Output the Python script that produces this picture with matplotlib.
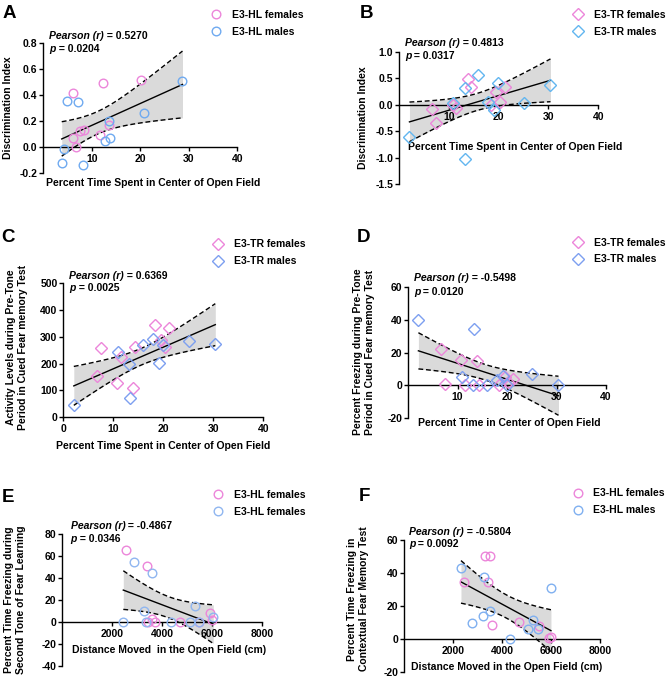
import numpy as np
import matplotlib
matplotlib.use('Agg')
import matplotlib.pyplot as plt

plt.rcParams['font.family'] = ['Liberation Sans', 'DejaVu Sans']
plt.rcParams['font.weight'] = 'bold'
plt.rcParams['font.size'] = 7.5
plt.rcParams['axes.unicode_minus'] = False

W, H = 669, 682

# ---- data ----
# A: discrimination index vs % time in center (E3-HL)
a_fem_x = [6.2, 12.4, 20.1, 6.1, 6.7, 7.6, 8.4, 11.7, 13.6]
a_fem_y = [0.414, 0.49, 0.517, 0.07, 0.0, 0.12, 0.13, 0.095, 0.172]
a_male_x = [3.8, 4.3, 4.9, 7.2, 8.2, 12.7, 13.8, 13.5, 20.8, 28.7]
a_male_y = [-0.127, -0.018, 0.357, 0.345, -0.144, 0.043, 0.066, 0.198, 0.26, 0.512]

# E3-TR mice, % time in center (shared by B, C, D)
tr_fem_x = [6.7, 7.5, 10.8, 11.5, 13.9, 14.4, 18.4, 19.5, 20.3, 21.2]
tr_male_x = [2.1, 10.9, 13.2, 13.3, 15.9, 17.9, 19.1, 19.9, 25.1, 30.4]

b_fem_y = [-0.087, -0.34, 0.0, -0.07, 0.48, 0.34, 0.0, 0.245, 0.057, 0.34]
b_male_y = [-0.60, 0.026, 0.31, -1.02, 0.56, 0.057, -0.10, 0.41, 0.026, 0.38]

c_fem_y = [153, 259, 128, 226, 110, 261, 344, 288, 263, 334]
c_male_y = [45, 242, 198, 70, 269, 290, 203, 270, 286, 273]

d_fem_y = [22.1, 0.9, 15.4, 0, 15.0, 0, 0, 5.3, 2.3, 3.7]
d_male_y = [39.7, 5.3, 0, 34.3, 0, 3.3, 5.7, 0, 6.9, 0]

# E: freezing during second tone vs distance moved (E3-HL)
e_fem_x = [2536, 3400, 3440, 3576, 3708, 4708, 5460, 5908, 6000]
e_fem_y = [65.5, 50.9, 0.3, 2.4, 0.3, 0, 0, 8.5, 1.8]
e_male_x = [2440, 2868, 3280, 3336, 3600, 4348, 5108, 5308, 5468, 6040]
e_male_y = [0, 54.2, 10.3, 0, 44.2, 0, 0, 14.5, 0, 4.2]

# F: contextual freezing vs distance moved (E3-HL)
f_fem_x = [2444, 3306, 3400, 3482, 3579, 4665, 5481, 5890, 5986]
f_fem_y = [34.3, 50.4, 34.7, 50.4, 8.3, 10.3, 7.7, 0.2, 0.8]
f_male_x = [2313, 2762, 3210, 3265, 3510, 4298, 5033, 5252, 5440, 5986]
f_male_y = [43.2, 9.4, 13.8, 37.3, 17.0, 0, 5.7, 11.4, 5.7, 31.0]

stats = {
    'A': ('0.5270', '0.0204'),
    'B': ('0.4813', '0.0317'),
    'C': ('0.6369', '0.0025'),
    'D': ('-0.5498', '0.0120'),
    'E': ('-0.4867', '0.0346'),
    'F': ('-0.5804', '0.0092'),
}

PINK = '#EC86DA'
T95 = {17: 2.110, 18: 2.101}


def fit_band(x, y):
    x = np.asarray(x, float)
    y = np.asarray(y, float)
    n = len(x)
    slope, icpt = np.polyfit(x, y, 1)
    xs = np.linspace(x.min(), x.max(), 100)
    yhat = icpt + slope * xs
    s = np.sqrt(np.sum((y - (icpt + slope * x)) ** 2) / (n - 2))
    se = s * np.sqrt(1 / n + (xs - x.mean()) ** 2 / np.sum((x - x.mean()) ** 2))
    t = T95[n - 2]
    return xs, yhat, yhat - t * se, yhat + t * se


def px_rect(l, t, r, b):
    return [l / W, 1 - b / H, (r - l) / W, (b - t) / H]


def fx(px):
    return px / W


def fy(py):
    return 1 - py / H


fig = plt.figure(figsize=(W / 100, H / 100), dpi=100)


def panel(letter, rect, fxv, fyv, mxv, myv, marker, blue, labels,
          xlim, xticks, ylim, yticks, yfmt, xlabel, ylabel,
          xlab_pos, ylab_pos, leg_pos, stat_pos, letter_pos):
    ax = fig.add_axes(px_rect(*rect))
    ms = 6.2
    allx = list(fxv) + list(mxv)
    ally = list(fyv) + list(myv)
    xs, yhat, lo, hi = fit_band(allx, ally)
    ax.fill_between(xs, lo, hi, color='#DADADA', lw=0, zorder=1)
    ax.plot(xs, yhat, color='black', lw=1.0, zorder=2)
    ax.plot(xs, lo, color='black', lw=1.0, ls=(0, (3.5, 2)), zorder=2)
    ax.plot(xs, hi, color='black', lw=1.0, ls=(0, (3.5, 2)), zorder=2)
    h1, = ax.plot(fxv, fyv, marker, ms=ms, mfc='none', mec=PINK, mew=1.0,
                  ls='none', zorder=3, clip_on=False)
    h2, = ax.plot(mxv, myv, marker, ms=ms, mfc='none', mec=blue, mew=1.0,
                  ls='none', zorder=3, clip_on=False)

    ax.set_xlim(*xlim)
    ax.set_ylim(*ylim)
    ax.set_xticks(xticks)
    ax.set_yticks(yticks)
    ax.set_yticklabels([yfmt.format(v) for v in yticks])
    ax.set_facecolor('none')
    for s in ('top', 'right'):
        ax.spines[s].set_visible(False)
    ax.spines['bottom'].set_position(('data', 0))
    for s in ('left', 'bottom'):
        ax.spines[s].set_linewidth(1.0)
    ax.tick_params(axis='y', length=3, width=1.0, pad=1.2, labelsize=7.5)
    ax.tick_params(axis='x', length=3, width=1.0, pad=2.0, labelsize=7.5)

    ax.set_xlabel(xlabel, fontsize=7.5, fontweight='bold', va='center')
    ax.xaxis.set_label_coords(fx(xlab_pos[0]), fy(xlab_pos[1]),
                              transform=fig.transFigure)
    ax.set_ylabel(ylabel, fontsize=7.5, fontweight='bold', va='center',
                  ha='center', linespacing=1.2)
    ax.yaxis.set_label_coords(fx(ylab_pos[0]), fy(ylab_pos[1]),
                              transform=fig.transFigure)

    ax.legend([h1, h2], labels, loc='upper left',
              bbox_to_anchor=(fx(leg_pos[0] - 6.25), fy(leg_pos[1] - 5.8)),
              bbox_transform=fig.transFigure, frameon=False,
              handlelength=1.2, handletextpad=0.9, labelspacing=0.67,
              borderpad=0, borderaxespad=0,
              prop={'size': 7.5, 'weight': 'bold'})

    r, p = stats[letter]
    x0, y1, y2 = stat_pos
    t1 = fig.text(fx(x0), fy(y1 + 3.7), 'Pearson (r)', style='italic',
                  fontsize=7.5, fontweight='bold', va='baseline')
    ax.annotate(' = ' + r, xy=(1, 0), xycoords=t1, va='bottom',
                fontsize=7.5, fontweight='bold', annotation_clip=False)
    t2 = fig.text(fx(x0), fy(y2 + 3.7), 'p', style='italic',
                  fontsize=7.5, fontweight='bold', va='baseline')
    ax.annotate(' = ' + p, xy=(1, 0), xycoords=t2, va='bottom',
                fontsize=7.5, fontweight='bold', annotation_clip=False)

    fig.text(fx(letter_pos[0]), fy(letter_pos[1]), letter, fontsize=13.5,
             fontweight='bold', va='baseline', ha='left')
    return ax


open_field = 'Percent Time Spent in Center of Open Field'

panel('A', (43.3, 43.3, 237.3, 172.7), a_fem_x, a_fem_y, a_male_x, a_male_y,
      'o', '#6FAAF0', ['E3-HL females', 'E3-HL males'],
      (0, 40), [10, 20, 30, 40], (-0.2, 0.8), np.arange(-0.2, 0.81, 0.2), '{:.1f}',
      open_field, 'Discrimination Index',
      (153, 183.3), (8.3, 107.5), (216, 15.7), (49.3, 35, 48.3), (2.5, 18.3))

panel('B', (399, 51.7, 598.3, 184.3), tr_fem_x, b_fem_y, tr_male_x, b_male_y,
      'D', '#62B6F0', ['E3-TR females', 'E3-TR males'],
      (0, 40), [10, 20, 30, 40], (-1.5, 1.0), np.arange(-1.5, 1.01, 0.5), '{:.1f}',
      open_field, 'Discrimination Index',
      (515.3, 146.7), (363.3, 117.5), (578.3, 15.7), (405, 42.7, 55.7), (359.5, 18.3))

panel('C', (63.3, 283.3, 263.3, 417), tr_fem_x, c_fem_y, tr_male_x, c_male_y,
      'D', '#7D9FF0', ['E3-TR females', 'E3-TR males'],
      (0, 40), [0, 10, 20, 30, 40], (0, 500), np.arange(0, 501, 100), '{:.0f}',
      open_field,
      'Activity Levels during Pre-Tone\nPeriod in Cued Fear memory Test',
      (163, 446), (17, 347), (218.3, 245), (69.3, 275.7, 287.7), (1.5, 242.3))

panel('D', (408, 286.7, 606, 418.3), tr_fem_x, d_fem_y, tr_male_x, d_male_y,
      'D', '#7D9FF0', ['E3-TR females', 'E3-TR males'],
      (0, 40), [10, 20, 30, 40], (-20, 60), np.arange(-20, 61, 20), '{:.0f}',
      'Percent Time in Center of Open Field',
      'Percent Freezing during Pre-Tone\nPeriod in Cued Fear memory Test',
      (509, 423.3), (364, 352), (578.3, 243.3), (414, 277.7, 291), (356.5, 242.3))

panel('E', (62.3, 534, 262.3, 666), e_fem_x, e_fem_y, e_male_x, e_male_y,
      'o', '#90B6F0', ['E3-HL females', 'E3-HL females'],
      (0, 8000), [2000, 4000, 6000, 8000], (-40, 80), np.arange(-40, 81, 20), '{:.0f}',
      'Distance Moved  in the Open Field (cm)',
      'Percent Time Freezing during\nSecond Tone of Fear Learning',
      (169.5, 650), (15.3, 600), (218.3, 495.7), (70.7, 525, 538.3), (1.5, 502.3))

panel('F', (404.3, 540, 600.3, 671.7), f_fem_x, f_fem_y, f_male_x, f_male_y,
      'o', '#80B0F0', ['E3-HL females', 'E3-HL males'],
      (0, 8000), [2000, 4000, 6000, 8000], (-20, 60), np.arange(-20, 61, 20), '{:.0f}',
      'Distance Moved in the Open Field (cm)',
      'Percent Time Freezing in\nContextual Fear Memory Test',
      (507, 666.7), (358, 599), (577.7, 494.3), (409, 531, 543.3), (359, 501))

fig.savefig('out.png', dpi=100)
